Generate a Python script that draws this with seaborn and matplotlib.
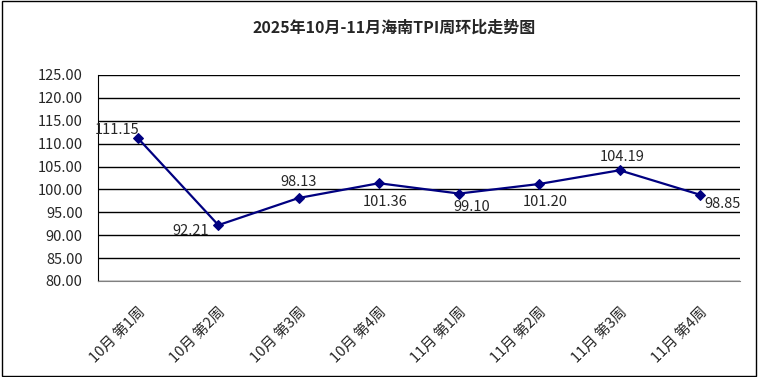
import matplotlib
matplotlib.use('Agg')
import matplotlib.pyplot as plt
import seaborn as sns
import pandas as pd
from matplotlib.patches import Rectangle

# 周次 / TPI 值
weeks = ['10月 第1周', '10月 第2周', '10月 第3周', '10月 第4周',
         '11月 第1周', '11月 第2周', '11月 第3周', '11月 第4周']
tpi = [111.15, 92.21, 98.13, 101.36, 99.10, 101.20, 104.19, 98.85]

# 数据标签偏移 (像素)
label_offsets = [(-21, 8), (-28, -6), (0, 16), (6, -19),
                 (13, -13), (6, -18), (3, 13), (23, -9)]

sns.set_style('white')
plt.rcParams['font.family'] = ['Noto Sans CJK SC', 'DejaVu Sans']

df = pd.DataFrame({'week': weeks, 'tpi': tpi})
df['pos'] = range(len(weeks))

fig = plt.figure(figsize=(7.58, 3.77), dpi=100)
ax = fig.add_axes([98 / 758, 1 - 281 / 377, 642 / 758, 206 / 377])

sns.lineplot(data=df, x='pos', y='tpi', ax=ax, color='#000080', marker='D',
             markersize=5, markeredgecolor='#000080', linewidth=1.6, sort=False)

ax.set_xlim(-0.5, len(weeks) - 0.5)
ax.set_ylim(80, 125)
ax.set_yticks(range(80, 126, 5))
ax.set_yticklabels([f'{v:.2f}' for v in range(80, 126, 5)], fontsize=10.5)
ax.set_xticks(df['pos'])
ax.set_xticklabels(weeks, rotation=45, ha='right', rotation_mode='anchor', fontsize=10.5)
ax.set_xticks([i + 0.5 for i in range(-1, len(weeks))], minor=True)
ax.tick_params(axis='x', which='major', length=0, pad=17)
ax.tick_params(axis='x', which='minor', length=4, color='#808080', direction='out')
ax.tick_params(axis='y', length=0, pad=11)
ax.set_xlabel('')
ax.set_ylabel('')

ax.grid(axis='y', color='black', linewidth=1)
ax.set_axisbelow(True)
for s in ['top', 'right']:
    ax.spines[s].set_visible(False)
ax.spines['left'].set_color('black')
ax.spines['bottom'].set_color('#808080')
ax.spines['bottom'].set_zorder(3)

for i, (v, off) in enumerate(zip(tpi, label_offsets)):
    ax.annotate(f'{v:.2f}', xy=(i, v), xytext=off, textcoords='offset pixels',
                ha='center', va='center', fontsize=10.5)

fig.text(394 / 758, 1 - 28 / 377, '2025年10月-11月海南TPI周环比走势图',
         ha='center', va='center', fontsize=11.5, fontweight='bold')

fig.patches.append(Rectangle((0.002, 0.003), 0.996, 0.994, transform=fig.transFigure,
                             fill=False, edgecolor='black', linewidth=1))

fig.savefig('out.png', dpi=100)
